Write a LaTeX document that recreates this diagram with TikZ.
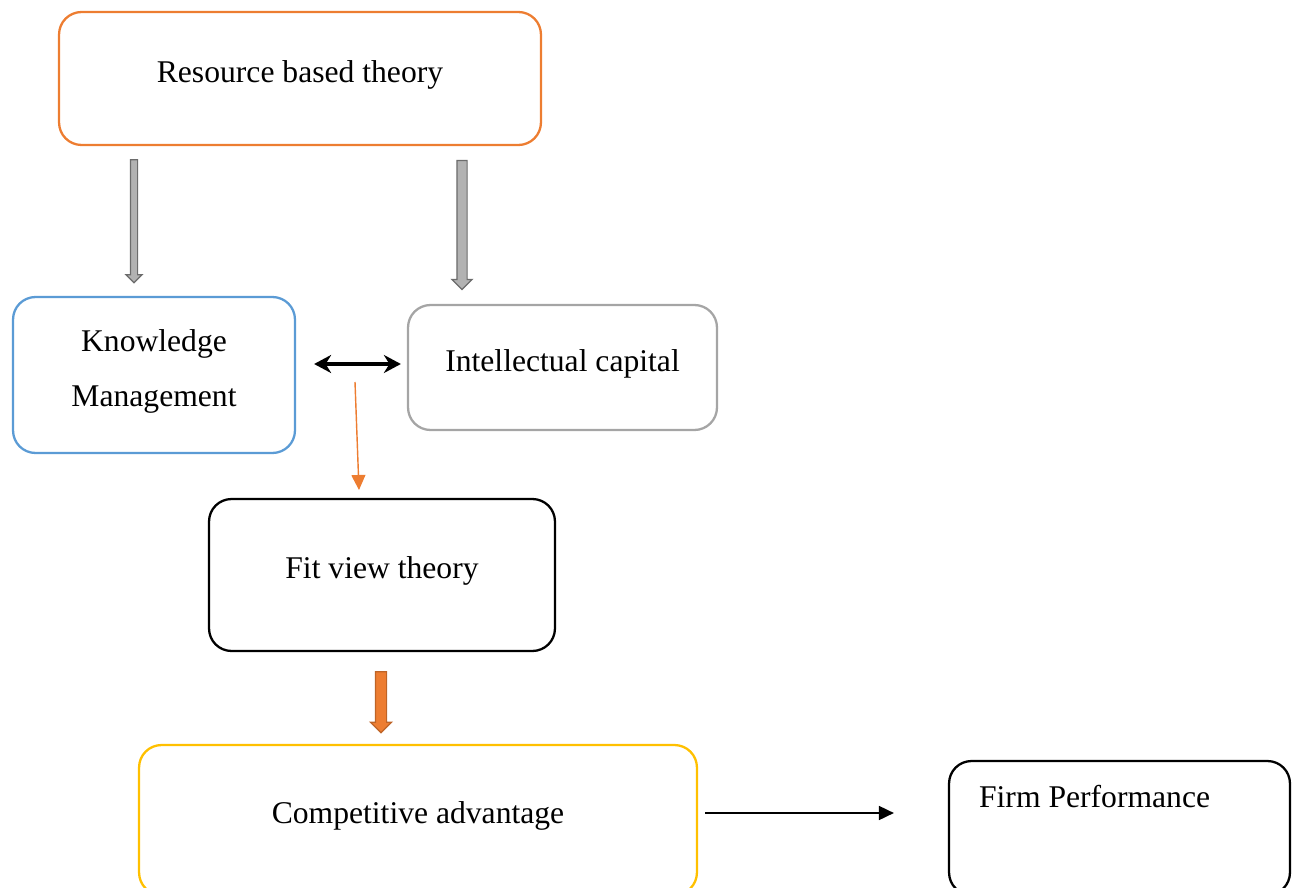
\documentclass[tikz,border=0pt]{standalone}
\usepackage{fontspec}
\setmainfont{Liberation Serif}
\usepackage{xcolor}
\usetikzlibrary{positioning, arrows.meta, shapes.arrows}
\definecolor{rbtorange}{HTML}{ED7D31}
\definecolor{kmblue}{HTML}{5B9BD5}
\definecolor{icgray}{HTML}{A5A5A5}
\definecolor{cayellow}{HTML}{FFC000}

\begin{document}
\begin{tikzpicture}[x=0.02cm, y=-0.02cm,
	box/.style={draw, line width=1.3pt, rounded corners=0.45cm, align=center,
		text depth=8pt, font=\fontsize{18pt}{31pt}\selectfont},
	blockarrow/.style={single arrow, rotate=-90, line width=0.7pt, inner sep=0pt},
	dblarrow/.style={{Stealth[length=0.34cm,width=0.36cm]}-{Stealth[length=0.34cm,width=0.36cm]}, line width=2pt},
	onearrow/.style={-{Triangle[length=0.3cm,width=0.28cm]}, line width=0.8pt}]
	\useasboundingbox (0,0) rectangle (1297,888);

	% boxes
	\node [box, draw=rbtorange, minimum width=9.64cm, minimum height=2.66cm] (rbt) at (300,78.5) {Resource based theory};
	\node [box, draw=kmblue, minimum width=5.64cm, minimum height=3.12cm] (km) at (154,375) {Knowledge\\Management};
	\node [box, draw=icgray, minimum width=6.18cm, minimum height=2.5cm] (ic) at (562.5,367.5) {Intellectual capital};
	\node [box, draw=black, minimum width=6.92cm, minimum height=3.04cm] (fvt) at (382,575) {Fit view theory};
	\node [box, draw=cayellow, minimum width=11.16cm, minimum height=3cm] (ca) at (418,820) {Competitive advantage};
	\node [box, draw=black, minimum width=6.82cm, minimum height=2.68cm] (fp) at (1119.5,828) {};
	\node [anchor=west, font=\fontsize{18pt}{31pt}\selectfont] (fptext) at ([xshift=0.5cm, yshift=-0.74cm]fp.north west) {Firm Performance};

	% block arrows
	\node [blockarrow, draw=gray!85!black, fill=gray!60, minimum height=2.46cm,
		inner ysep=0.06cm, single arrow head extend=0.09cm] (ga1) at (134,219.5) {};
	\node [blockarrow, draw=gray!85!black, fill=gray!60, minimum height=2.58cm,
		inner ysep=0.09cm, single arrow head extend=0.1cm] (ga2) at (462,222.5) {};
	\node [blockarrow, draw=rbtorange!80!black, fill=rbtorange, minimum height=1.22cm,
		inner ysep=0.1cm, single arrow head extend=0.1cm] (oa) at (381,699.5) {};

	% connectors
	\draw [dblarrow, shorten <=0.36cm, shorten >=0.12cm] (km.east |- 0,364) -- (ic.west |- 0,364);
	\coordinate (o1) at (355,382);
	\coordinate (o2) at (359,490);
	\draw [onearrow, draw=rbtorange, fill=rbtorange] (o1) -- (o2);
	\draw [onearrow, line width=1pt, shorten <=0.14cm, shorten >=1.08cm] (ca.east |- 0,813) -- (fp.west |- 0,813);
\end{tikzpicture}
\end{document}
